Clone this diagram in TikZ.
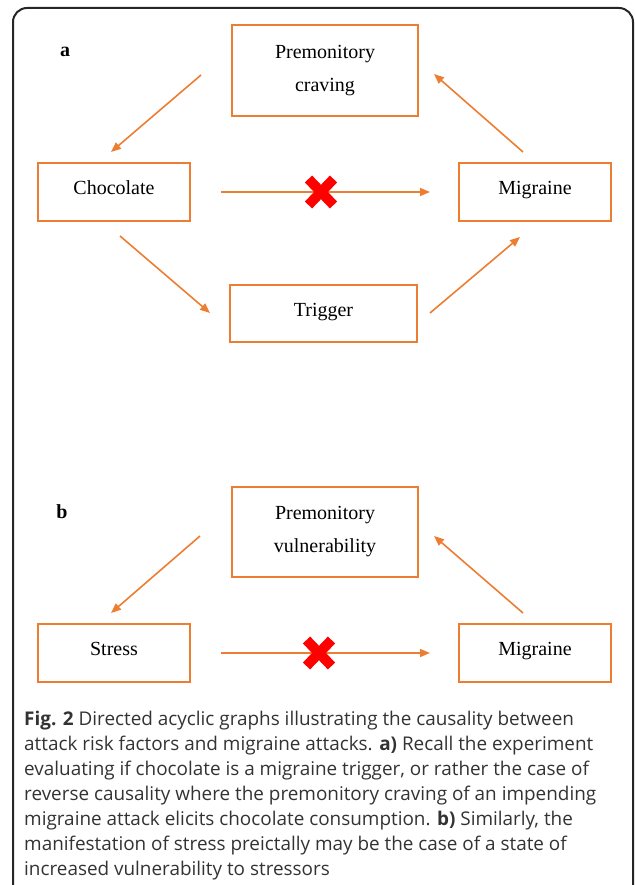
\documentclass[tikz,border=0pt]{standalone}
\usepackage{fontspec}
\setmainfont{Liberation Serif}
\newfontfamily\capfont{Open Sans}
\usetikzlibrary{arrows.meta}
\definecolor{dagorange}{HTML}{ED7D31}
\definecolor{capgray}{HTML}{333333}
\tikzset{
  dagbox/.style={draw=dagorange, line width=2pt, inner sep=0pt, align=center,
    font=\fontsize{20}{33}\selectfont},
  onebox/.style={dagbox, minimum width=152pt, minimum height=58pt,
    text height=14pt, text depth=9pt},
  dagarrow/.style={draw=dagorange, line width=1.6pt,
    -{Triangle[length=10pt,width=8pt]}},
  crossarm/.style={draw=red, line width=10pt},
  panellabel/.style={font=\fontsize{20}{24}\selectfont\bfseries, inner sep=0pt},
  capline/.style={anchor=base west, inner sep=0pt, text=capgray,
    font=\capfont\fontsize{18.9}{25}\selectfont},
}
\begin{document}
\begin{tikzpicture}[x=1pt, y=-1pt]
\useasboundingbox (0,0) rectangle (634,885);
\begin{scope}
\clip (0,0) rectangle (634,885);
\draw[line width=2pt, black!85, rounded corners=14pt] (13,8) rectangle (633,905);
\end{scope}

% panel a
\node[panellabel] (la) at (65,52) {a};
\node[dagbox, minimum width=186pt, minimum height=91pt] (pc) at (325,70.5) {Premonitory\\craving};
\node[onebox] (choc) at (114,192) {Chocolate};
\node[onebox] (mig) at (535,192) {Migraine};
\node[onebox, minimum width=187pt, minimum height=57pt] (trig) at (323.5,313.5) {Trigger};

\coordinate (a1s) at (201,75);  \coordinate (a1e) at (111,152);
\coordinate (a2s) at (221,192); \coordinate (a2e) at (430,192);
\coordinate (a3s) at (523,152); \coordinate (a3e) at (434,74);
\coordinate (a4s) at (120,236); \coordinate (a4e) at (210,313);
\coordinate (a5s) at (430,313); \coordinate (a5e) at (520,237);
\draw[dagarrow] (a1s) -- (a1e);
\draw[dagarrow] (a2s) -- (a2e);
\draw[dagarrow] (a3s) -- (a3e);
\draw[dagarrow] (a4s) -- (a4e);
\draw[dagarrow] (a5s) -- (a5e);
\coordinate (xa) at (321,192);
\draw[crossarm] ([shift={(-12.5,-13)}]xa) -- ([shift={(12.5,13)}]xa);
\draw[crossarm] ([shift={(-12.5,13)}]xa) -- ([shift={(12.5,-13)}]xa);

% panel b
\node[panellabel] (lb) at (62,512) {b};
\node[dagbox, minimum width=186pt, minimum height=90pt] (pv) at (325,532) {Premonitory\\vulnerability};
\node[onebox] (stress) at (114,653) {Stress};
\node[onebox] (migb) at (535,653) {Migraine};

\coordinate (b1s) at (200,536); \coordinate (b1e) at (111,613);
\coordinate (b2s) at (221,653); \coordinate (b2e) at (430,653);
\coordinate (b3s) at (523,613); \coordinate (b3e) at (434,536);
\draw[dagarrow] (b1s) -- (b1e);
\draw[dagarrow] (b2s) -- (b2e);
\draw[dagarrow] (b3s) -- (b3e);
\coordinate (xb) at (319,653);
\draw[crossarm] ([shift={(-12.5,-13)}]xb) -- ([shift={(12.5,13)}]xb);
\draw[crossarm] ([shift={(-12.5,13)}]xb) -- ([shift={(12.5,-13)}]xb);

% caption
\node[capline] (c1) at (24,725) {\textbf{Fig. 2} Directed acyclic graphs illustrating the causality between};
\node[capline] (c2) at (24,750) {attack risk factors and migraine attacks. \textbf{a)} Recall the experiment};
\node[capline] (c3) at (24,775) {evaluating if chocolate is a migraine trigger, or rather the case of};
\node[capline] (c4) at (24,800) {reverse causality where the premonitory craving of an impending};
\node[capline] (c5) at (24,825) {migraine attack elicits chocolate consumption. \textbf{b)} Similarly, the};
\node[capline] (c6) at (24,850) {manifestation of stress preictally may be the case of a state of};
\node[capline] (c7) at (24,875) {increased vulnerability to stressors};
\end{tikzpicture}
\end{document}
